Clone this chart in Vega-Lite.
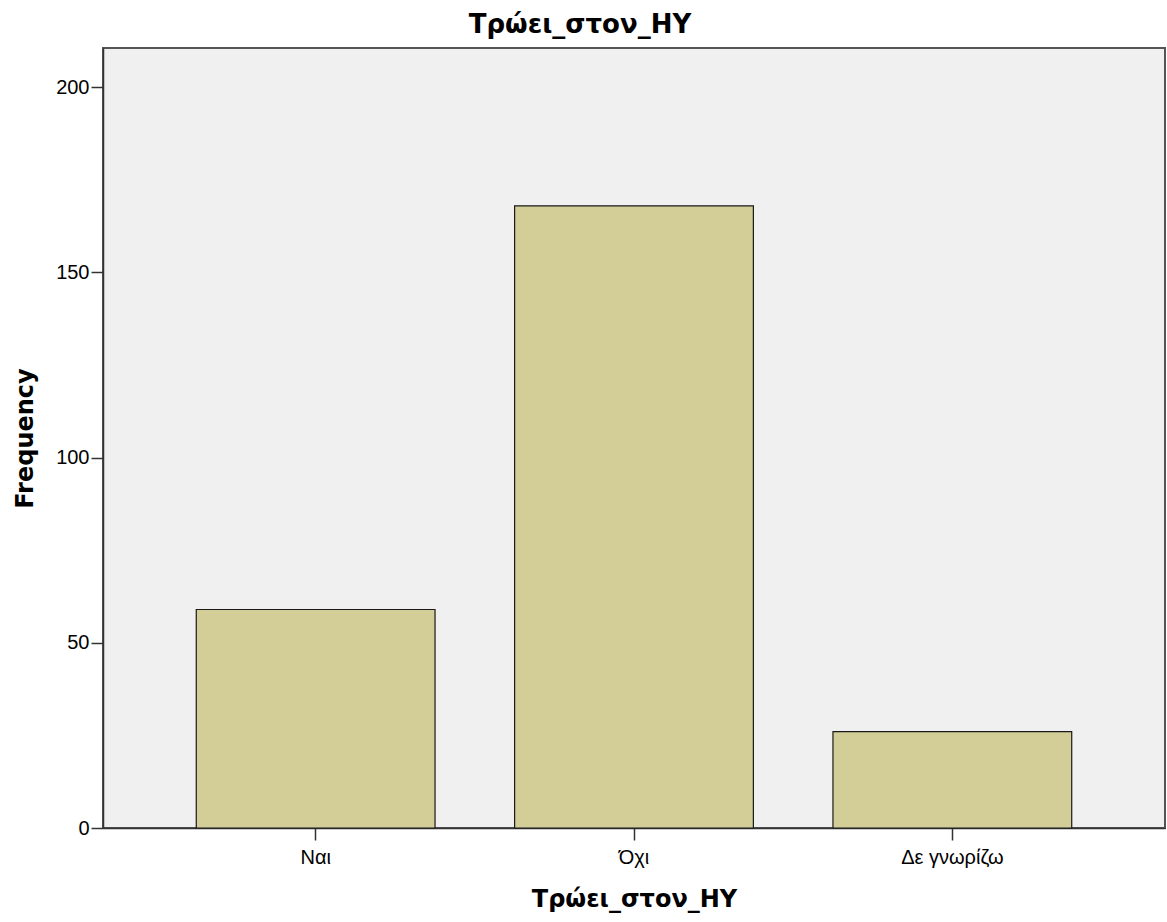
{
  "$schema": "https://vega.github.io/schema/vega-lite/v6.json",
  "autosize": "none",
  "width": 1062,
  "height": 780,
  "padding": {"left": 103, "top": 48, "right": 2, "bottom": 94},
  "background": "white",
  "title": {
    "text": "Τρώει_στον_HY",
    "anchor": "middle",
    "frame": "group",
    "dx": -54,
    "offset": 10,
    "font": "DejaVu Sans",
    "fontSize": 26,
    "fontWeight": "bold",
    "color": "#000000"
  },
  "data": {
    "values": [
      {"category": "Ναι", "frequency": 59},
      {"category": "Όχι", "frequency": 168},
      {"category": "Δε γνωρίζω", "frequency": 26}
    ]
  },
  "mark": {"type": "bar", "fill": "#D3CE97", "stroke": "#1a1a1a", "strokeWidth": 1.2},
  "encoding": {
    "x": {
      "field": "category",
      "type": "nominal",
      "sort": ["Ναι", "Όχι", "Δε γνωρίζω"],
      "scale": {"paddingInner": 0.25, "paddingOuter": 0.293},
      "axis": {
        "title": "Τρώει_στον_HY",
        "labelAngle": 0,
        "tickSize": 12,
        "labelPadding": 23,
        "labelBaseline": "alphabetic",
        "titleY": 78,
        "titleBaseline": "alphabetic",
        "titleFont": "DejaVu Sans",
        "titleFontSize": 24
      }
    },
    "y": {
      "field": "frequency",
      "type": "quantitative",
      "scale": {"domain": [0, 210.6], "nice": false, "zero": true},
      "axis": {
        "title": "Frequency",
        "values": [0, 50, 100, 150, 200],
        "grid": false,
        "tickSize": 12,
        "labelPadding": 2,
        "titleX": -71,
        "titleBaseline": "alphabetic",
        "titleFont": "DejaVu Sans",
        "titleFontSize": 24
      }
    }
  },
  "config": {
    "view": {"fill": "#F0F0F0", "stroke": "#555555", "strokeWidth": 2},
    "axis": {
      "domainColor": "#333333",
      "domainWidth": 1.5,
      "tickColor": "#333333",
      "tickWidth": 1.5,
      "labelFont": "Liberation Sans",
      "labelFontSize": 20,
      "labelColor": "#000000",
      "titleColor": "#000000",
      "titleFontWeight": "bold"
    }
  }
}
